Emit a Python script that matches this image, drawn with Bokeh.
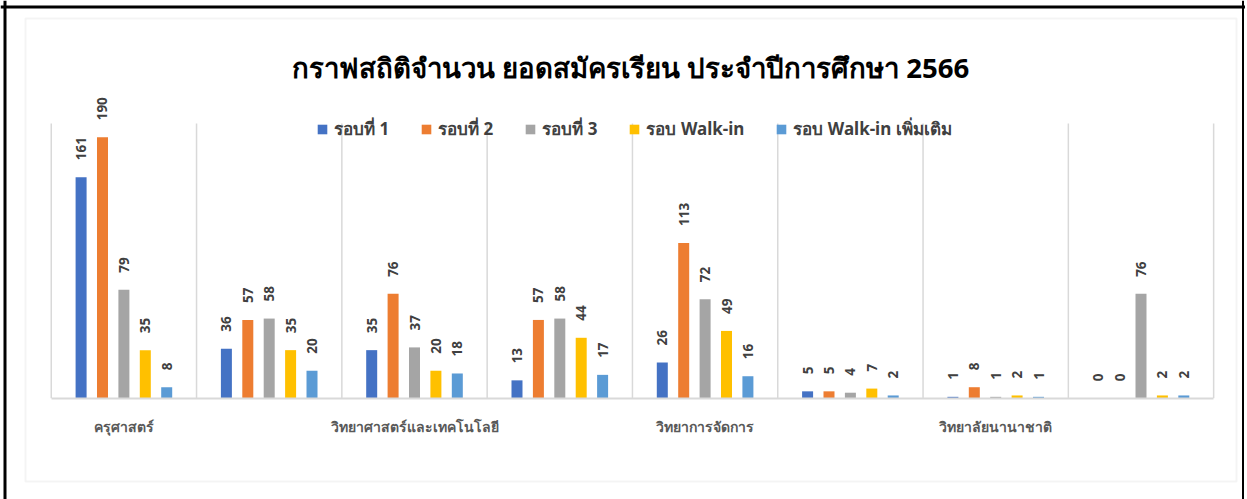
import numpy as np
from bokeh.plotting import figure
from bokeh.models import Range1d, FixedTicker, Label, Legend, LegendItem, ColumnDataSource, BoxAnnotation, Span
from bokeh.embed import file_html
from bokeh.resources import INLINE
from bokeh.core.properties import value

# ---------------- data ----------------
title_text = "กราฟสถิติจำนวน ยอดสมัครเรียน ประจำปีการศึกษา 2566"
categories = ["ครุศาสตร์", "", "วิทยาศาสตร์และเทคโนโลยี", "", "วิทยาการจัดการ", "", "วิทยาลัยนานาชาติ", ""]
series_names = ["รอบที่ 1", "รอบที่ 2", "รอบที่ 3", "รอบ Walk-in", "รอบ Walk-in เพิ่มเติม"]
round1 = [161, 36, 35, 13, 26, 5, 1, 0]
round2 = [190, 57, 76, 57, 113, 5, 8, 0]
round3 = [79, 58, 37, 58, 72, 4, 1, 76]
walkin = [35, 35, 20, 44, 49, 7, 2, 2]
walkin_extra = [8, 20, 18, 17, 16, 2, 1, 2]
colors = ["#4472C4", "#ED7D31", "#A5A5A5", "#FFC000", "#5B9BD5"]
y_axis_max = 200

series_values = [round1, round2, round3, walkin, walkin_extra]

# ---------------- layout ----------------
FONT = "Noto Sans"
n_groups = len(categories)
bar_step = 0.1473
bar_width = 0.0757

W, H = 1245, 499               # canvas (page origin at 0, 0)
X_PX, X0_PAGE = 145.3, 123.4   # px per category, page x of first category centre
Y_PX, Y0_PAGE = 1.373, 397.7   # px per unit, page y of the baseline


def px2x(page_x):
    return (page_x - X0_PAGE) / X_PX


def px2y(page_y):
    return (Y0_PAGE - page_y) / Y_PX


p = figure(
    width=W, height=H,
    x_range=Range1d(px2x(0), px2x(W)), y_range=Range1d(px2y(H), px2y(0)),
    output_backend="svg", toolbar_location=None, title=None,
    min_border=0, min_border_left=0, min_border_right=0, min_border_top=0, min_border_bottom=0,
)
p.background_fill_color = "white"
p.border_fill_color = "white"
p.outline_line_color = None
p.xgrid.visible = False
p.ygrid.visible = False
p.yaxis.visible = False

# page frame (black) and chart area (light grey)
for sp in [Span(location=px2x(4.5), dimension="height", line_color="black", line_width=3),
           Span(location=px2y(6.5), dimension="width", line_color="black", line_width=3),
           Span(location=px2x(1242.5), dimension="height", line_color="black", line_width=2)]:
    p.add_layout(sp)
p.add_layout(BoxAnnotation(left=px2x(25), right=px2x(1236), top=px2y(18), bottom=px2y(481),
                           fill_color=None, line_color="#D9D9D9", line_width=2))

# vertical category separators
bounds = np.arange(n_groups + 1) - 0.5
p.segment(x0=bounds, y0=0, x1=bounds, y1=y_axis_max, line_color="#D9D9D9", line_width=1.5)

# category axis at y = 0
ax = p.xaxis[0]
ax.fixed_location = 0
ax.bounds = (-0.5, n_groups - 0.5)
ax.ticker = FixedTicker(ticks=[i for i, c in enumerate(categories) if c])
ax.major_label_overrides = {i: c for i, c in enumerate(categories) if c}
ax.axis_line_color = "#D9D9D9"
ax.axis_line_width = 2
ax.major_tick_line_color = None
ax.minor_tick_line_color = None
ax.major_label_standoff = 13
ax.major_label_text_font = FONT
ax.major_label_text_font_size = "14px"
ax.major_label_text_font_style = "bold"
ax.major_label_text_color = "#595959"

items = []
for k, (name, vals, col) in enumerate(zip(series_names, series_values, colors)):
    xs = np.arange(n_groups) + (k - 2) * bar_step
    src = ColumnDataSource(dict(x=xs, top=vals, label=[str(v) for v in vals]))
    r = p.vbar(x="x", top="top", bottom=0, width=bar_width, source=src,
               fill_color=col, line_color=None)
    p.text(x="x", y="top", text="label", source=src, angle=np.pi / 2,
           text_align="left", text_baseline="middle", y_offset=-17,
           text_font=value(FONT), text_font_size="13.5px", text_font_style="bold",
           text_color="#404040")
    items.append(LegendItem(label=name, renderers=[r]))

legend = Legend(items=items, orientation="horizontal", location=(316, H - 142),
                padding=0, margin=0, spacing=31, label_standoff=6,
                glyph_width=12, glyph_height=12,
                label_text_font=FONT, label_text_font_size="17px",
                label_text_font_style="bold",
                label_text_color="#404040",
                border_line_color=None, background_fill_alpha=0)
p.add_layout(legend)

title = Label(x=px2x(630), y=px2y(66), text=title_text,
              text_align="center", text_baseline="middle",
              text_font=FONT, text_font_size="27.6px", text_font_style="bold",
              text_color="#000000")
p.add_layout(title)

open("out.html", "w").write(file_html(p, INLINE))
